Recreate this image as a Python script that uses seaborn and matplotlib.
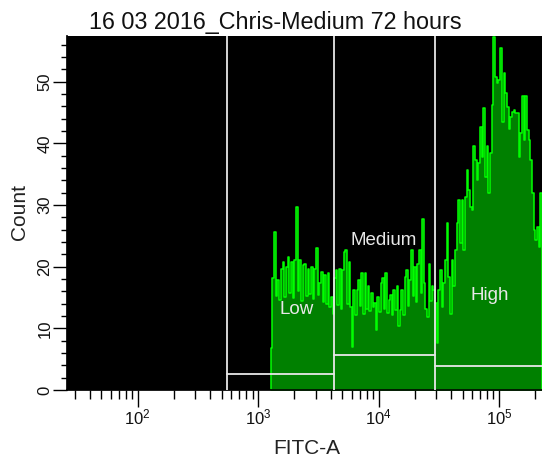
import numpy as np
import pandas as pd
import matplotlib
matplotlib.use("Agg")
import matplotlib.pyplot as plt
from matplotlib.ticker import MultipleLocator, LogLocator
import seaborn as sns

# ---- data -----------------------------------------------------------------
title = "16 03 2016_Chris-Medium 72 hours"

# gate boundaries on the FITC-A axis (log10 units)
gate_edges_log = [2.742, 3.632, 4.468]
data_start_log = 3.106
data_end_log = 5.357

# histogram counts per channel, one list per gate region
counts_low = [6.8, 18.1, 25.7, 15.2, 17.8, 14.6, 19.7, 20.8, 15.0, 20.0,
              21.6, 15.8, 20.8, 14.9, 21.1, 29.7, 16.0, 21.1, 14.5, 20.3,
              20.5, 15.3, 19.7, 15.6, 20.0, 14.8, 19.7, 23.0, 15.4, 17.3,
              19.2, 14.2, 18.6, 14.0, 18.9, 13.5, 15.1, 12.4]
counts_mid = [18.1, 19.5, 13.8, 19.7, 13.2, 19.5, 22.4, 22.7, 14.0, 20.8,
              13.5, 7.0, 16.2, 12.1, 16.2, 17.8, 13.6, 18.9, 12.4, 18.9,
              13.2, 16.8, 12.8, 15.7, 13.5, 14.1, 9.7, 15.1, 12.6, 17.3,
              18.1, 13.2, 18.9, 12.5, 14.6, 15.4, 12.2, 16.2, 13.0, 16.8,
              10.3, 13.0, 16.2, 12.1, 18.4, 19.5, 13.6, 17.8, 22.7, 15.2,
              20.0, 14.2, 20.5, 22.7, 15.8, 27.8, 17.3, 13.2, 11.8, 20.5,
              14.4, 16.8, 16.2]
counts_high = [14.1, 7.6, 16.2, 19.5, 13.5, 17.3, 21.1, 27.0, 18.4, 12.4,
               21.1, 16.8, 22.7, 27.0, 30.8, 23.8, 30.8, 22.7, 31.3, 35.7,
               32.4, 29.7, 29.2, 39.5, 37.3, 34.1, 36.8, 42.7, 37.8, 45.7,
               34.6, 39.5, 31.9, 38.4, 46.2, 57.3, 50.8, 49.7, 50.3, 55.4,
               43.5, 51.4, 48.1, 45.9, 42.4, 44.3, 45.1, 45.4, 44.9, 44.9,
               37.8, 41.6, 47.6, 40.5, 47.6, 42.2, 40.5, 37.3, 31.9, 25.9,
               24.3, 26.5, 23.2, 31.9]

gate_names = ["Low", "Medium", "High"]
gate_levels = [2.65, 5.68, 3.95]
gate_label_x = [2085, 11100, 84100]
gate_label_y = [13.0, 24.2, 15.4]

# ---- channel bins (log10 units), uniform inside each gate region ----------
seg_bounds = [data_start_log, gate_edges_log[1], gate_edges_log[2], data_end_log]
segments = [counts_low, counts_mid, counts_high]
edges = []
for a, b, cnts in zip(seg_bounds[:-1], seg_bounds[1:], segments):
    edges.extend(np.linspace(a, b, len(cnts) + 1)[:-1])
edges.append(data_end_log)
edges = np.array(edges)
all_counts = counts_low + counts_mid + counts_high
centers = 10 ** ((edges[:-1] + edges[1:]) / 2)
df = pd.DataFrame({"FITC-A": centers, "Count": all_counts})

# ---- figure ---------------------------------------------------------------
sns.set_theme(style="ticks")
plt.rcParams["font.family"] = ["Liberation Sans", "DejaVu Sans"]
plt.rcParams["mathtext.fontset"] = "custom"
plt.rcParams["mathtext.rm"] = "Liberation Sans"

W, H = 542, 463
fig = plt.figure(figsize=(W / 100, H / 100), dpi=100, facecolor="white")
ax = fig.add_axes([67 / W, 1 - 390 / H, 1 - 67 / W, (390 - 36) / H])
ax.set_facecolor("black")

sns.histplot(data=df, x="FITC-A", weights="Count", bins=list(edges),
             log_scale=True, element="step", fill=True,
             color="#008000", edgecolor="#00ff00", linewidth=1.1,
             alpha=1, ax=ax)

ax.set_xlim(10 ** 1.414, 10 ** data_end_log)
ax.set_ylim(0, 57.4)

# gates
gate_col = "#e8e8e8"
xr = 10 ** data_end_log
gate_x = [10 ** g for g in gate_edges_log]
bounds = gate_x + [xr * 1.5]
for x in gate_x:
    ax.axvline(x, color=gate_col, lw=1.3, zorder=5)
for i, name in enumerate(gate_names):
    ax.plot([bounds[i], bounds[i + 1]], [gate_levels[i]] * 2,
            color=gate_col, lw=1.3, zorder=5)
    ax.text(gate_label_x[i], gate_label_y[i], name, color=gate_col,
            fontsize=13.5, ha="center", va="center", zorder=6)

# axes styling
for s in ["top", "right"]:
    ax.spines[s].set_visible(False)
for s in ["left", "bottom"]:
    ax.spines[s].set_color("black")

ax.xaxis.set_major_locator(LogLocator(base=10, numticks=10))
ax.xaxis.set_minor_locator(LogLocator(base=10, subs=np.arange(2, 10), numticks=20))
ax.yaxis.set_major_locator(MultipleLocator(10))
ax.yaxis.set_minor_locator(MultipleLocator(2))

ax.tick_params(axis="x", which="major", length=12.5, width=1.0, color="black",
               labelsize=12, pad=0, labelcolor="#111111")
ax.tick_params(axis="x", which="minor", length=6.5, width=1.0, color="black")
ax.tick_params(axis="y", which="major", length=10, width=1.0, color="black",
               labelsize=12, pad=0.5, labelrotation=90, labelcolor="#111111")
ax.tick_params(axis="y", which="minor", length=4, width=1.0, color="black")
for lab in ax.get_yticklabels():
    lab.set_va("center")

ax.set_xlabel("")
ax.set_ylabel("")
fig.text(307 / W, 1 - 449 / H, "FITC-A", fontsize=15, ha="center", va="center",
         color="#222222")
fig.text(20 / W, 1 - 212 / H, "Count", fontsize=15, ha="center", va="center",
         rotation=90, color="#222222")
fig.text(275 / W, 1 - 23 / H, title, fontsize=16.8, ha="center", va="center",
         color="#111111")

fig.savefig("out.png", dpi=100, facecolor="white")
